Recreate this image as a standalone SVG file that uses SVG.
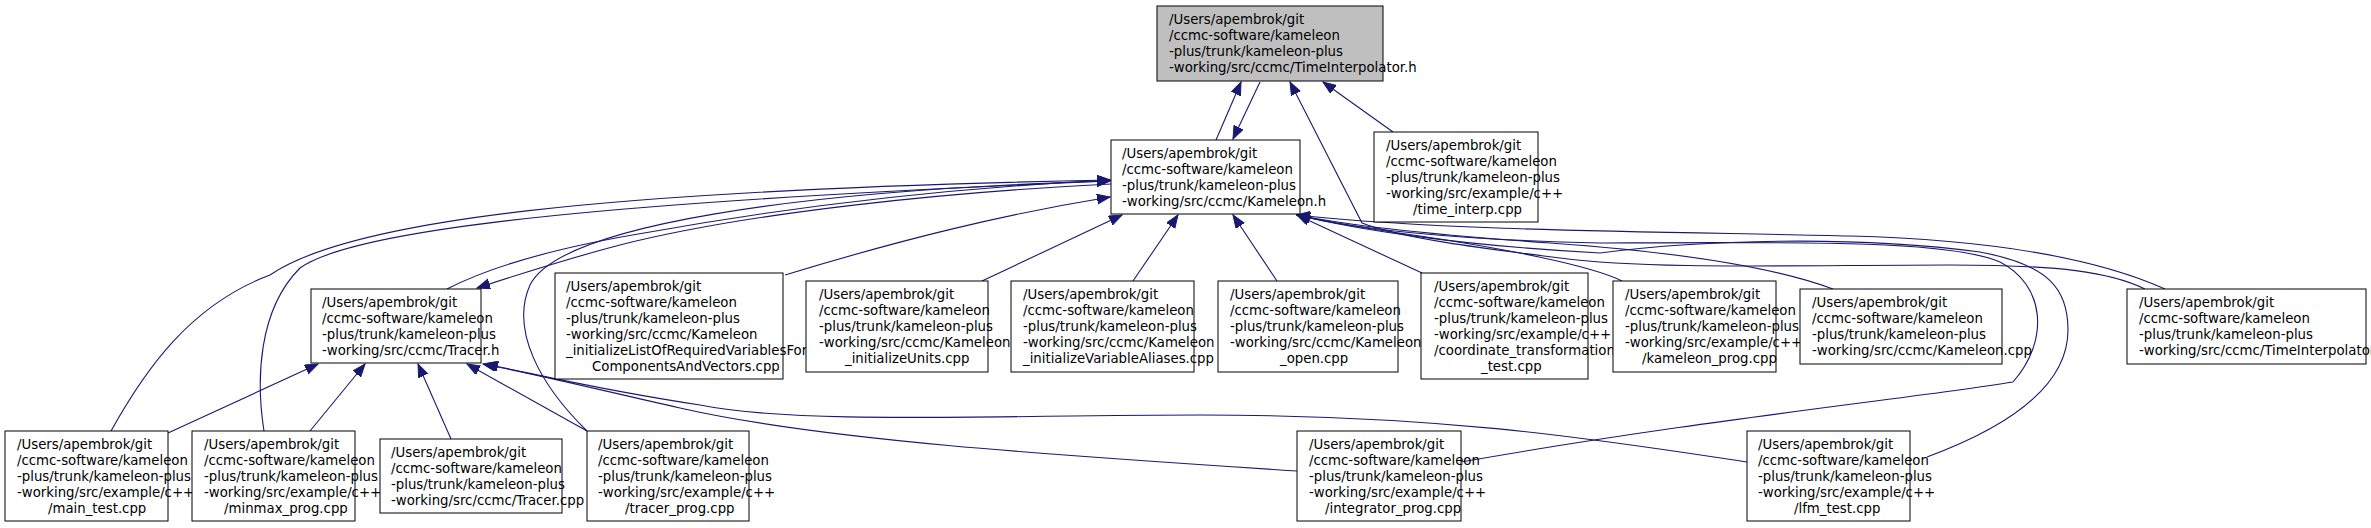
<svg xmlns="http://www.w3.org/2000/svg" width="2371" height="528" viewBox="0 0 2371 528">
<style>
.box{fill:#fff;stroke:#000;stroke-width:1}
.root{fill:#bfbfbf;stroke:#000;stroke-width:1}
.lbl{font-family:"DejaVu Sans","Liberation Sans",sans-serif;font-size:13.3px;fill:#000}
.e{fill:none;stroke:#191970;stroke-width:1.1;marker-end:url(#ah)}
</style>
<defs>
<marker id="ah" markerWidth="14" markerHeight="11" refX="13" refY="5" orient="auto" markerUnits="userSpaceOnUse">
<path d="M0,0 L13,5 L0,10 z" fill="#191970" stroke="#191970" stroke-width="1"/>
</marker>
</defs>
<rect width="2371" height="528" fill="#fff"/>
<g id="edges">
<path class="e" d="M1216,140 L1241,82"/>
<path class="e" d="M1260,82 L1233,139"/>
<path class="e" d="M1393,132 L1323,82"/>
<path class="e" d="M2145,289 C2110,272 2060,265 1950,265 C1800,265 1650,270 1560,258 C1480,248 1400,238 1362,223 L1290,82"/>
<path class="e" d="M111,431 C145,370 190,305 270,275 C350,220 600,190 1110,180"/>
<path class="e" d="M264,431 C256,380 258,310 300,268 C360,225 650,200 1110,181"/>
<path class="e" d="M587,431 C540,385 510,330 530,285 C560,225 800,190 1110,181"/>
<path class="e" d="M447,289 C480,272 540,250 650,232 C800,205 950,188 1110,180"/>
<path class="e" d="M1111,184 C950,192 750,212 620,245 C570,258 520,274 477,288"/>
<path class="e" d="M785,275 C900,240 1000,215 1110,197"/>
<path class="e" d="M982,281 L1122,215"/>
<path class="e" d="M1133,281 L1178,215"/>
<path class="e" d="M1277,281 L1233,215"/>
<path class="e" d="M1422,273 L1297,215"/>
<path class="e" d="M1622,281 C1590,265 1500,248 1420,236 C1370,229 1330,223 1297,215"/>
<path class="e" d="M1833,289 C1760,262 1650,250 1550,243 C1450,236 1350,226 1297,215"/>
<path class="e" d="M2165,289 C2100,260 2000,240 1850,236 C1700,232 1450,232 1297,215"/>
<path class="e" d="M1461,462 C1700,420 1900,400 2013,382 C2050,340 2045,285 2000,262 C1950,240 1800,242 1600,243 C1450,240 1350,228 1297,215"/>
<path class="e" d="M1927,457 C2000,430 2068,390 2068,330 C2068,290 2050,265 1980,252 C1850,235 1700,240 1600,253 C1450,245 1350,228 1297,215"/>
<path class="e" d="M168,433 L318,364"/>
<path class="e" d="M310,431 L365,364"/>
<path class="e" d="M451,439 L418,364"/>
<path class="e" d="M587,431 L467,364"/>
<path class="e" d="M1297,471 C1050,455 820,440 680,408 C600,390 540,375 483,364"/>
<path class="e" d="M1747,462 C1600,440 1450,415 1200,415 C1000,415 800,425 700,405 C600,390 540,375 485,364"/>
</g>
<g id="n_TimeInterpolator_h">
<rect class="root" x="1157" y="6" width="226" height="75"/>
<text class="lbl"><tspan x="1169" y="24">/Users/apembrok/git</tspan><tspan x="1169" y="40">/ccmc-software/kameleon</tspan><tspan x="1169" y="56">-plus/trunk/kameleon-plus</tspan><tspan x="1169" y="72">-working/src/ccmc/TimeInterpolator.h</tspan></text>
</g>
<g id="n_Kameleon_h">
<rect class="box" x="1111" y="140" width="189" height="74"/>
<text class="lbl"><tspan x="1122" y="158">/Users/apembrok/git</tspan><tspan x="1122" y="174">/ccmc-software/kameleon</tspan><tspan x="1122" y="190">-plus/trunk/kameleon-plus</tspan><tspan x="1122" y="206">-working/src/ccmc/Kameleon.h</tspan></text>
</g>
<g id="n_time_interp">
<rect class="box" x="1374" y="132" width="164" height="90"/>
<text class="lbl"><tspan x="1386" y="150">/Users/apembrok/git</tspan><tspan x="1386" y="166">/ccmc-software/kameleon</tspan><tspan x="1386" y="182">-plus/trunk/kameleon-plus</tspan><tspan x="1386" y="198">-working/src/example/c++</tspan><tspan x="1413" y="214">/time_interp.cpp</tspan></text>
</g>
<g id="n_Tracer_h">
<rect class="box" x="311" y="289" width="170" height="74"/>
<text class="lbl"><tspan x="322" y="307">/Users/apembrok/git</tspan><tspan x="322" y="323">/ccmc-software/kameleon</tspan><tspan x="322" y="339">-plus/trunk/kameleon-plus</tspan><tspan x="322" y="355">-working/src/ccmc/Tracer.h</tspan></text>
</g>
<g id="n_initList">
<rect class="box" x="555" y="273" width="228" height="106"/>
<text class="lbl"><tspan x="566" y="291">/Users/apembrok/git</tspan><tspan x="566" y="307">/ccmc-software/kameleon</tspan><tspan x="566" y="323">-plus/trunk/kameleon-plus</tspan><tspan x="566" y="339">-working/src/ccmc/Kameleon</tspan><tspan x="566" y="355">_initializeListOfRequiredVariablesFor</tspan><tspan x="592" y="371">ComponentsAndVectors.cpp</tspan></text>
</g>
<g id="n_initUnits">
<rect class="box" x="806" y="281" width="182" height="91"/>
<text class="lbl"><tspan x="819" y="299">/Users/apembrok/git</tspan><tspan x="819" y="315">/ccmc-software/kameleon</tspan><tspan x="819" y="331">-plus/trunk/kameleon-plus</tspan><tspan x="819" y="347">-working/src/ccmc/Kameleon</tspan><tspan x="845" y="363">_initializeUnits.cpp</tspan></text>
</g>
<g id="n_initVarAliases">
<rect class="box" x="1011" y="281" width="183" height="91"/>
<text class="lbl"><tspan x="1023" y="299">/Users/apembrok/git</tspan><tspan x="1023" y="315">/ccmc-software/kameleon</tspan><tspan x="1023" y="331">-plus/trunk/kameleon-plus</tspan><tspan x="1023" y="347">-working/src/ccmc/Kameleon</tspan><tspan x="1023" y="363">_initializeVariableAliases.cpp</tspan></text>
</g>
<g id="n_open">
<rect class="box" x="1218" y="281" width="180" height="91"/>
<text class="lbl"><tspan x="1230" y="299">/Users/apembrok/git</tspan><tspan x="1230" y="315">/ccmc-software/kameleon</tspan><tspan x="1230" y="331">-plus/trunk/kameleon-plus</tspan><tspan x="1230" y="347">-working/src/ccmc/Kameleon</tspan><tspan x="1280" y="363">_open.cpp</tspan></text>
</g>
<g id="n_coord">
<rect class="box" x="1421" y="273" width="167" height="106"/>
<text class="lbl"><tspan x="1434" y="291">/Users/apembrok/git</tspan><tspan x="1434" y="307">/ccmc-software/kameleon</tspan><tspan x="1434" y="323">-plus/trunk/kameleon-plus</tspan><tspan x="1434" y="339">-working/src/example/c++</tspan><tspan x="1434" y="355">/coordinate_transformation</tspan><tspan x="1481" y="371">_test.cpp</tspan></text>
</g>
<g id="n_kameleon_prog">
<rect class="box" x="1613" y="281" width="163" height="91"/>
<text class="lbl"><tspan x="1625" y="299">/Users/apembrok/git</tspan><tspan x="1625" y="315">/ccmc-software/kameleon</tspan><tspan x="1625" y="331">-plus/trunk/kameleon-plus</tspan><tspan x="1625" y="347">-working/src/example/c++</tspan><tspan x="1642" y="363">/kameleon_prog.cpp</tspan></text>
</g>
<g id="n_Kameleon_cpp">
<rect class="box" x="1800" y="289" width="202" height="75"/>
<text class="lbl"><tspan x="1812" y="307">/Users/apembrok/git</tspan><tspan x="1812" y="323">/ccmc-software/kameleon</tspan><tspan x="1812" y="339">-plus/trunk/kameleon-plus</tspan><tspan x="1812" y="355">-working/src/ccmc/Kameleon.cpp</tspan></text>
</g>
<g id="n_TimeInterpolator_cpp">
<rect class="box" x="2127" y="289" width="239" height="75"/>
<text class="lbl"><tspan x="2139" y="307">/Users/apembrok/git</tspan><tspan x="2139" y="323">/ccmc-software/kameleon</tspan><tspan x="2139" y="339">-plus/trunk/kameleon-plus</tspan><tspan x="2139" y="355">-working/src/ccmc/TimeInterpolator.cpp</tspan></text>
</g>
<g id="n_main_test">
<rect class="box" x="5" y="431" width="163" height="90"/>
<text class="lbl"><tspan x="17" y="449">/Users/apembrok/git</tspan><tspan x="17" y="465">/ccmc-software/kameleon</tspan><tspan x="17" y="481">-plus/trunk/kameleon-plus</tspan><tspan x="17" y="497">-working/src/example/c++</tspan><tspan x="48" y="513">/main_test.cpp</tspan></text>
</g>
<g id="n_minmax_prog">
<rect class="box" x="192" y="431" width="163" height="90"/>
<text class="lbl"><tspan x="204" y="449">/Users/apembrok/git</tspan><tspan x="204" y="465">/ccmc-software/kameleon</tspan><tspan x="204" y="481">-plus/trunk/kameleon-plus</tspan><tspan x="204" y="497">-working/src/example/c++</tspan><tspan x="224" y="513">/minmax_prog.cpp</tspan></text>
</g>
<g id="n_Tracer_cpp">
<rect class="box" x="380" y="439" width="182" height="74"/>
<text class="lbl"><tspan x="391" y="457">/Users/apembrok/git</tspan><tspan x="391" y="473">/ccmc-software/kameleon</tspan><tspan x="391" y="489">-plus/trunk/kameleon-plus</tspan><tspan x="391" y="505">-working/src/ccmc/Tracer.cpp</tspan></text>
</g>
<g id="n_tracer_prog">
<rect class="box" x="587" y="431" width="162" height="90"/>
<text class="lbl"><tspan x="598" y="449">/Users/apembrok/git</tspan><tspan x="598" y="465">/ccmc-software/kameleon</tspan><tspan x="598" y="481">-plus/trunk/kameleon-plus</tspan><tspan x="598" y="497">-working/src/example/c++</tspan><tspan x="625" y="513">/tracer_prog.cpp</tspan></text>
</g>
<g id="n_integrator_prog">
<rect class="box" x="1297" y="431" width="164" height="90"/>
<text class="lbl"><tspan x="1309" y="449">/Users/apembrok/git</tspan><tspan x="1309" y="465">/ccmc-software/kameleon</tspan><tspan x="1309" y="481">-plus/trunk/kameleon-plus</tspan><tspan x="1309" y="497">-working/src/example/c++</tspan><tspan x="1325" y="513">/integrator_prog.cpp</tspan></text>
</g>
<g id="n_lfm_test">
<rect class="box" x="1747" y="431" width="163" height="90"/>
<text class="lbl"><tspan x="1758" y="449">/Users/apembrok/git</tspan><tspan x="1758" y="465">/ccmc-software/kameleon</tspan><tspan x="1758" y="481">-plus/trunk/kameleon-plus</tspan><tspan x="1758" y="497">-working/src/example/c++</tspan><tspan x="1794" y="513">/lfm_test.cpp</tspan></text>
</g>
</svg>
